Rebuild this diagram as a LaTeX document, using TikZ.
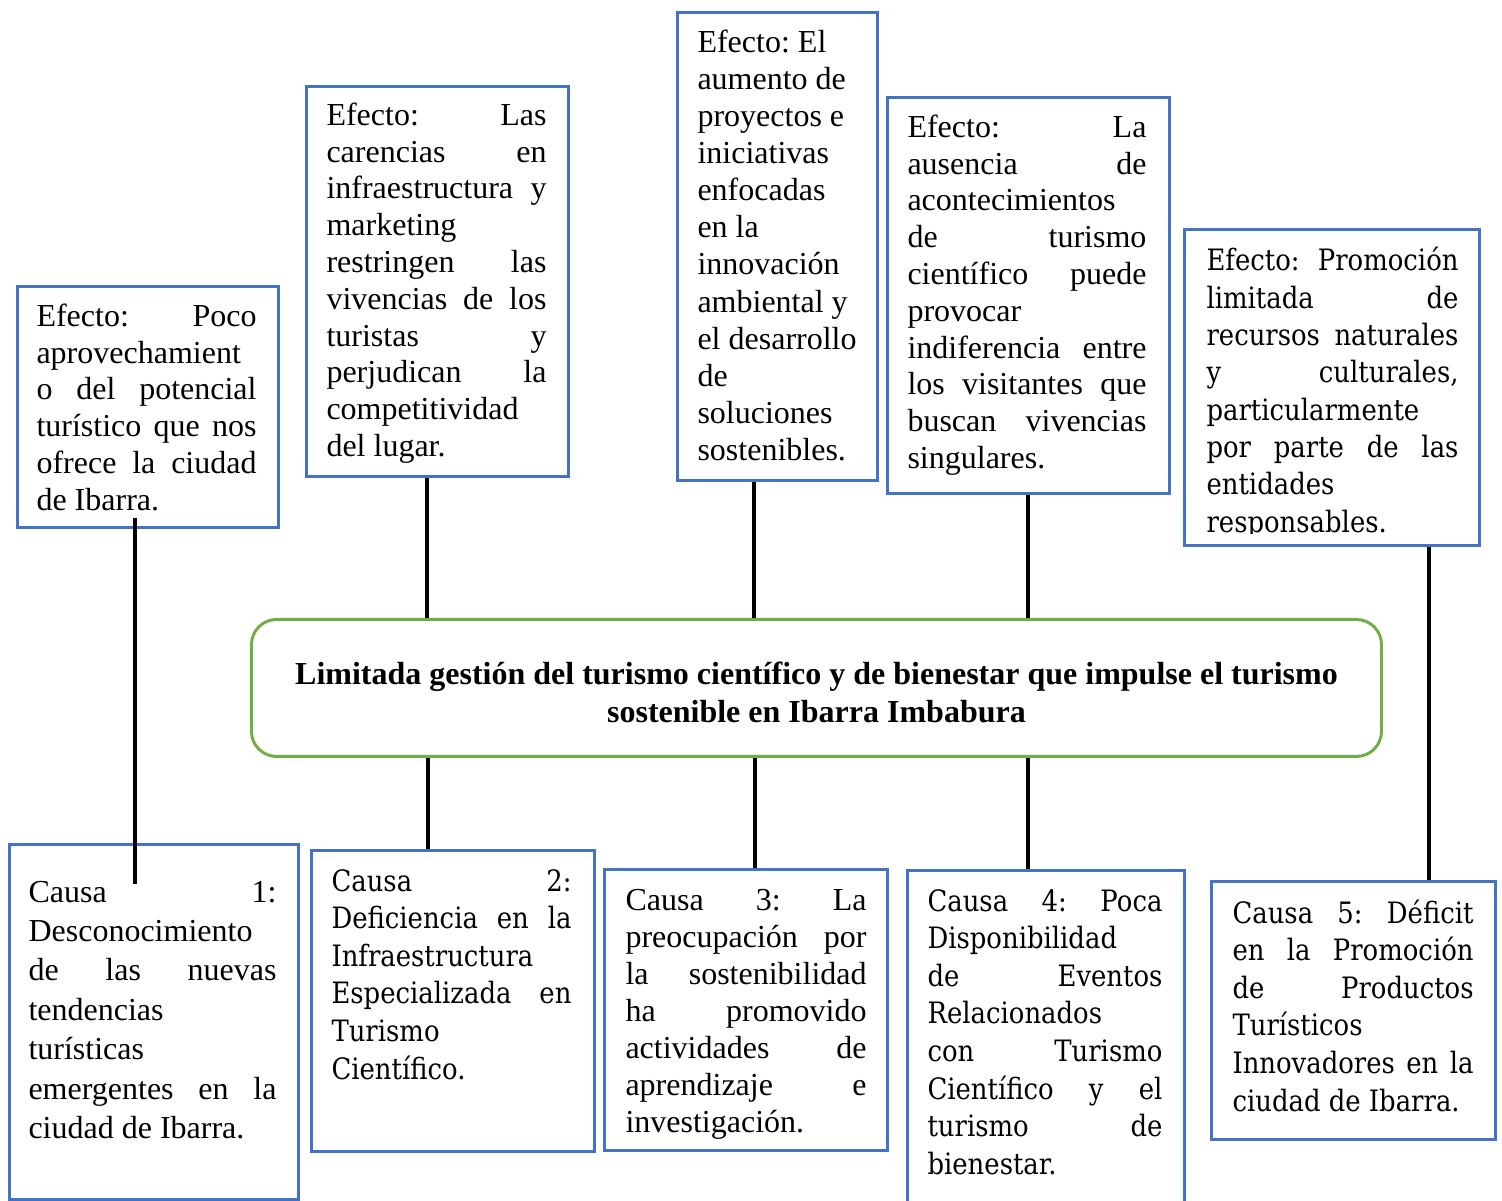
\documentclass[tikz,border=0pt]{standalone}
\usepackage{fontspec}
\usepackage{graphicx}
\setmainfont{Liberation Serif}
\newfontfamily\camb{DejaVu Serif}[Scale=0.92,FakeStretch=0.88]
\definecolor{boxblue}{HTML}{4472C4}
\definecolor{boxgreen}{HTML}{70AD47}
\newsavebox\lnbox
\newcommand\J[1]{\par\noindent\sbox\lnbox{\spaceskip=\fontdimen2\font\xspaceskip=\spaceskip #1}\hbox to\hsize{\ifdim\wd\lnbox>\hsize\resizebox{\hsize}{\ht\lnbox}{\usebox\lnbox}\else\spaceskip=\fontdimen2\font plus 1fil\xspaceskip=\spaceskip #1\fi}\par}
\newcommand\Lx[1]{\par\noindent\sbox\lnbox{\spaceskip=\fontdimen2\font\xspaceskip=\spaceskip #1}\hbox to\hsize{\ifdim\wd\lnbox>\hsize\resizebox{\hsize}{\ht\lnbox}{\usebox\lnbox}\else\usebox\lnbox\hfil\fi}\par}
\begin{document}
\begin{tikzpicture}[x=0.375pt,y=-0.375pt,
  box/.style={draw=boxblue,line width=0.95pt,anchor=north west,inner sep=0pt},
  mainbox/.style={draw=boxgreen,line width=1.1pt,rounded corners=9.4pt,anchor=north west,inner sep=0pt},
  txt/.style={inner sep=0pt,anchor=north west,align=left},
  conn/.style={line width=1.4pt,black}]
\useasboundingbox (0,0) rectangle (1502,1201);
\fill[white] (0,0) rectangle (1502,1201);

% boxes
\node[box,minimum width=97.875pt,minimum height=90.375pt] (e1) at (16,285) {};
\node[box,minimum width=98.25pt,minimum height=146.25pt] (e2) at (305,85) {};
\node[box,minimum width=75pt,minimum height=175.5pt] (e3) at (676,11) {};
\node[box,minimum width=105.75pt,minimum height=148.5pt] (e4) at (886,96) {};
\node[box,minimum width=110.625pt,minimum height=118.5pt] (e5) at (1183,228) {};
\node[mainbox,minimum width=423.75pt,minimum height=51.375pt] (m) at (250,618) {};
\node[box,minimum width=108.375pt,minimum height=133.125pt] (c1) at (8,843) {};
\node[box,minimum width=106.125pt,minimum height=112.875pt] (c2) at (310,849) {};
\node[box,minimum width=106.125pt,minimum height=105.375pt] (c3) at (603,868) {};
\node[box,minimum width=103.875pt,minimum height=129.375pt] (c4) at (906,869) {};
\node[box,minimum width=106.5pt,minimum height=96.75pt] (c5) at (1210,880) {};

% texts of effects
\node[txt,text width=82.5pt] (te1) at (36,289) {\fontsize{12}{13.8}\selectfont
\J{Efecto: Poco}\Lx{aprovechamient}\J{o del potencial}\J{turístico que nos}\J{ofrece la ciudad}\Lx{de Ibarra.}};
\node[txt,text width=82.5pt] (te2) at (326,88) {\fontsize{12}{13.8}\selectfont
\J{Efecto: Las}\J{carencias en}\J{infraestructura y}\Lx{marketing}\J{restringen las}\J{vivencias de los}\J{turistas y}\J{perjudican la}\Lx{competitividad}\Lx{del lugar.}};
\node[txt,text width=63.75pt] (te3) at (697,15) {\fontsize{12}{13.9}\selectfont
\Lx{Efecto: El}\Lx{aumento de}\Lx{proyectos e}\Lx{iniciativas}\Lx{enfocadas}\Lx{en la}\Lx{innovación}\Lx{ambiental y}\Lx{el desarrollo}\Lx{de}\Lx{soluciones}\Lx{sostenibles.}};
\node[txt,text width=89.6pt] (te4) at (907,100) {\fontsize{12}{13.8}\selectfont
\J{Efecto: La}\J{ausencia de}\Lx{acontecimientos}\J{de turismo}\J{científico puede}\Lx{provocar}\J{indiferencia entre}\J{los visitantes que}\J{buscan vivencias}\Lx{singulares.}};
\begin{scope}
\clip (1184,229) rectangle (1477,534);
\node[txt,text width=94.5pt] (te5) at (1206,233) {\camb\fontsize{12}{14.0}\selectfont
\J{Efecto: Promoción}\J{limitada de}\J{recursos naturales}\J{y culturales,}\Lx{particularmente}\J{por parte de las}\Lx{entidades}\Lx{responsables.}};
\end{scope}

% central problem
\node[font=\bfseries\fontsize{12}{14.25}\selectfont,align=center,inner sep=0pt] (title) at ([shift={(0,4)}]m.center)
{Limitada gestión del turismo científico y de bienestar que impulse el turismo\\sostenible en Ibarra Imbabura};

% texts of causes
\node[txt,text width=93pt] (tc1) at (28,862) {\fontsize{12}{14.8}\selectfont
\J{Causa 1:}\Lx{Desconocimiento}\J{de las nuevas}\Lx{tendencias}\Lx{turísticas}\J{emergentes en la}\Lx{ciudad de Ibarra.}};
\node[txt,text width=90pt] (tc2) at (331,853) {\camb\fontsize{12}{14.1}\selectfont
\J{Causa 2:}\J{Deficiencia en la}\Lx{Infraestructura}\J{Especializada en}\Lx{Turismo}\Lx{Científico.}};
\node[txt,text width=90.4pt] (tc3) at (625,873) {\fontsize{12}{13.9}\selectfont
\J{Causa 3: La}\J{preocupación por}\J{la sostenibilidad}\J{ha promovido}\J{actividades de}\J{aprendizaje e}\Lx{investigación.}};
\node[txt,text width=88.1pt] (tc4) at (927,873) {\camb\fontsize{12}{14.1}\selectfont
\J{Causa 4: Poca}\Lx{Disponibilidad}\J{de Eventos}\Lx{Relacionados}\J{con Turismo}\J{Científico y el}\J{turismo de}\Lx{bienestar.}};
\node[txt,text width=90.4pt] (tc5) at (1232,885) {\camb\fontsize{12}{14.1}\selectfont
\J{Causa 5: Déficit}\J{en la Promoción}\J{de Productos}\Lx{Turísticos}\J{Innovadores en la}\Lx{ciudad de Ibarra.}};

% connectors
\draw[conn] ([shift={(119,-11)}]e1.south west) -- ([shift={(127,41)}]c1.north west);
\coordinate (p2) at ([shift={(122,0)}]e2.south west);
\draw[conn] (p2) -- (p2 |- m.north);
\coordinate (q2) at ([shift={(118,0)}]c2.north west);
\draw[conn] (q2) -- (q2 |- m.south);
\coordinate (p3) at ([shift={(78,0)}]e3.south west);
\draw[conn] (p3) -- (p3 |- m.north);
\coordinate (q3) at ([shift={(152,0)}]c3.north west);
\draw[conn] (q3) -- (q3 |- m.south);
\coordinate (p4) at ([shift={(142,0)}]e4.south west);
\draw[conn] (p4) -- (p4 |- m.north);
\coordinate (q4) at ([shift={(122,0)}]c4.north west);
\draw[conn] (q4) -- (q4 |- m.south);
\coordinate (p5) at ([shift={(246,0)}]e5.south west);
\draw[conn] (p5) -- (p5 |- c5.north);
\end{tikzpicture}
\end{document}
